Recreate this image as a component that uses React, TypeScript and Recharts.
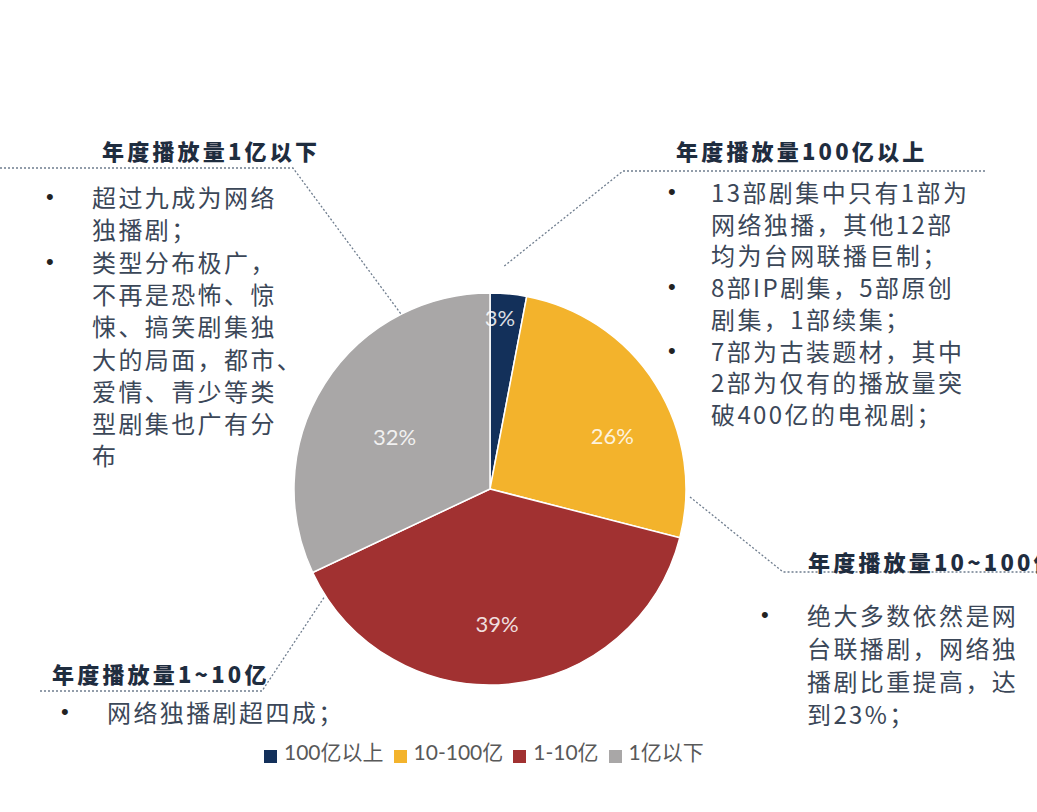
import { Cell, Legend, Pie, PieChart } from 'recharts';

// Pie: share of drama series by annual play count bracket
const CATEGORIES = ['100亿以上', '10-100亿', '1-10亿', '1亿以下'];
const SHARES = [3, 26, 39, 32];
const COLORS = ['#13305A', '#F3B32C', '#A13131', '#A9A7A7'];

// label placement tweaks (fraction of radius, angle nudge in degrees)
const LABEL_R = [0.875, 0.68, 0.685, 0.555];
const LABEL_ROT = [2.1, -8.9, -2.4, 3.7];

const HEAD = '#1F2D3F';
const BODY = '#3B4758';
const LEADER = '#6F7D8E';
const CJK = "'Noto Sans CJK SC', 'Noto Sans', sans-serif";

const data = CATEGORIES.map((name, i) => ({ name, value: SHARES[i] }));

const RAD = Math.PI / 180;

function SliceLabel(props: any) {
  const { cx, cy, midAngle, outerRadius, index, value } = props;
  const r = outerRadius * LABEL_R[index];
  const a = midAngle + LABEL_ROT[index];
  const x = cx + r * Math.cos(-a * RAD);
  const y = cy + r * Math.sin(-a * RAD);
  return (
    <text
      x={x}
      y={y}
      textAnchor="middle"
      dominantBaseline="central"
      fill="#FFFFFF"
      fillOpacity={0.85}
      fontSize={22}
      fontFamily={`Lato, ${CJK}`}
    >
      {`${value}%`}
    </text>
  );
}

interface Block {
  heading: string;
  headX: number;
  headY: number;
  bulletX: number;
  textX: number;
  top: number;
  lineH: number;
  // each bullet is a list of pre-broken lines
  bullets: string[][];
}

const BLOCKS: Block[] = [
  {
    heading: '年度播放量1亿以下',
    headX: 102,
    headY: 150,
    bulletX: 46,
    textX: 92,
    top: 181,
    lineH: 32.3,
    bullets: [
      ['超过九成为网络', '独播剧；'],
      ['类型分布极广，', '不再是恐怖、惊', '悚、搞笑剧集独', '大的局面，都市、', '爱情、青少等类', '型剧集也广有分', '布'],
    ],
  },
  {
    heading: '年度播放量100亿以上',
    headX: 676,
    headY: 150,
    bulletX: 668,
    textX: 711,
    top: 176,
    lineH: 31.7,
    bullets: [
      ['13部剧集中只有1部为', '网络独播，其他12部', '均为台网联播巨制；'],
      ['8部IP剧集，5部原创', '剧集，1部续集；'],
      ['7部为古装题材，其中', '2部为仅有的播放量突', '破400亿的电视剧；'],
    ],
  },
  {
    heading: '年度播放量10~100亿',
    headX: 808,
    headY: 561,
    bulletX: 761,
    textX: 807,
    top: 598,
    lineH: 33,
    bullets: [['绝大多数依然是网', '台联播剧，网络独', '播剧比重提高，达', '到23%；']],
  },
  {
    heading: '年度播放量1~10亿',
    headX: 52,
    headY: 673,
    bulletX: 61,
    textX: 107,
    top: 696,
    lineH: 32,
    bullets: [['网络独播剧超四成；']],
  },
];

function TextBlock({ b }: { b: Block }) {
  let row = 0;
  return (
    <>
      <div
        style={{
          position: 'absolute',
          left: b.headX,
          top: b.headY - 15,
          height: 30,
          lineHeight: '30px',
          fontFamily: CJK,
          fontWeight: 900,
          fontSize: 22,
          letterSpacing: 3.2,
          color: HEAD,
          whiteSpace: 'nowrap',
        }}
      >
        {b.heading}
      </div>
      {b.bullets.map((lines, bi) => {
        const start = row;
        row += lines.length;
        return (
          <div key={bi}>
            <div
              style={{
                position: 'absolute',
                left: b.bulletX,
                top: b.top + start * b.lineH,
                lineHeight: `${b.lineH}px`,
                fontFamily: "'Liberation Sans', Arial, sans-serif",
                fontSize: 22,
                color: '#222',
              }}
            >
              •
            </div>
            {lines.map((ln, li) => (
              <div
                key={li}
                style={{
                  position: 'absolute',
                  left: b.textX,
                  top: b.top + (start + li) * b.lineH,
                  lineHeight: `${b.lineH}px`,
                  fontFamily: CJK,
                  fontSize: 24,
                  letterSpacing: 2.4,
                  color: BODY,
                  whiteSpace: 'nowrap',
                }}
              >
                {ln}
              </div>
            ))}
          </div>
        );
      })}
    </>
  );
}

export default function App() {
  return (
    <div
      style={{
        position: 'absolute',
        left: 0,
        top: 0,
        width: 1037,
        height: 812,
        background: '#FFFFFF',
        overflow: 'hidden',
      }}
    >
      <PieChart width={1037} height={812} margin={{ top: 0, right: 0, bottom: 0, left: 0 }}>
        <Pie
          data={data}
          dataKey="value"
          nameKey="name"
          cx={490}
          cy={489}
          outerRadius={196}
          startAngle={90}
          endAngle={-270}
          stroke="#FFFFFF"
          strokeWidth={1.5}
          label={SliceLabel}
          labelLine={false}
          isAnimationActive={false}
        >
          {data.map((d, i) => (
            <Cell key={d.name} fill={COLORS[i]} />
          ))}
        </Pie>
        <Legend
          layout="horizontal"
          align="left"
          verticalAlign="bottom"
          iconType="square"
          iconSize={13}
          itemSorter={(item: any) => CATEGORIES.indexOf(item.value)}
          wrapperStyle={{ left: 264, top: 738, bottom: 'auto', width: 560, lineHeight: '28px' }}
          formatter={(v: string) => (
            <span
              style={{
                color: '#595959',
                fontSize: 21,
                fontFamily: `Lato, ${CJK}`,
                paddingLeft: 3,
              }}
            >
              {v}
            </span>
          )}
        />
      </PieChart>

      {/* leader lines */}
      <svg
        width={1037}
        height={812}
        style={{ position: 'absolute', left: 0, top: 0, pointerEvents: 'none' }}
      >
        <g fill="none" stroke={LEADER} strokeWidth={1.3} strokeDasharray="2 2">
          <polyline points="0,168 293,168 401,314" />
          <polyline points="985,171 623,171 503,267" />
          <polyline points="690,497 783,572 1037,572" />
          <polyline points="40,691 262,691 325,596" />
        </g>
      </svg>

      {BLOCKS.map((b) => (
        <TextBlock key={b.heading} b={b} />
      ))}
    </div>
  );
}
